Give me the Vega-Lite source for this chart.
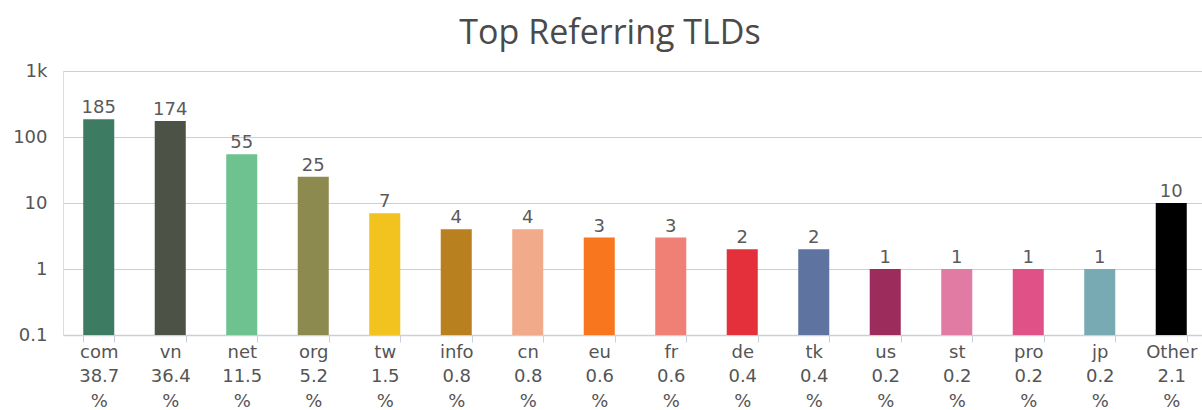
{
  "$schema": "https://vega.github.io/schema/vega-lite/v6.json",
  "autosize": "none",
  "padding": {"left": 63, "top": 71, "right": 0, "bottom": 75},
  "width": 1144,
  "height": 264,
  "background": "white",
  "title": {
    "text": "Top Referring TLDs",
    "fontSize": 34,
    "font": "Open Sans",
    "fontWeight": "normal",
    "color": "#4a4a4a",
    "anchor": "middle",
    "frame": "group",
    "dx": -25,
    "offset": 11
  },
  "data": {
    "values": [
      {"tld": "com", "count": 185, "pct": 38.7},
      {"tld": "vn", "count": 174, "pct": 36.4},
      {"tld": "net", "count": 55, "pct": 11.5},
      {"tld": "org", "count": 25, "pct": 5.2},
      {"tld": "tw", "count": 7, "pct": 1.5},
      {"tld": "info", "count": 4, "pct": 0.8},
      {"tld": "cn", "count": 4, "pct": 0.8},
      {"tld": "eu", "count": 3, "pct": 0.6},
      {"tld": "fr", "count": 3, "pct": 0.6},
      {"tld": "de", "count": 2, "pct": 0.4},
      {"tld": "tk", "count": 2, "pct": 0.4},
      {"tld": "us", "count": 1, "pct": 0.2},
      {"tld": "st", "count": 1, "pct": 0.2},
      {"tld": "pro", "count": 1, "pct": 0.2},
      {"tld": "jp", "count": 1, "pct": 0.2},
      {"tld": "Other", "count": 10, "pct": 2.1}
    ]
  },
  "transform": [
    {"calculate": "datum.tld + '|' + format(datum.pct, '.1f')", "as": "key"}
  ],
  "encoding": {
    "x": {
      "field": "key",
      "type": "nominal",
      "sort": null,
      "scale": {"paddingInner": 0.566, "paddingOuter": 0.283},
      "axis": {
        "title": null,
        "labelAngle": 0,
        "labelExpr": "isValid(datum.value) ? [split(datum.value, '|')[0], split(datum.value, '|')[1], '%'] : ''",
        "labelFont": "DejaVu Sans",
        "labelFontSize": 18,
        "labelColor": "#555555",
        "labelLineHeight": 24.5,
        "labelPadding": 1,
        "labelOverlap": false,
        "tickBand": "extent",
        "tickColor": "#c8d0e0",
        "tickSize": 7,
        "domainColor": "#c8d0e0",
        "domainWidth": 1.5,
        "grid": false
      }
    }
  },
  "layer": [
    {
      "mark": {"type": "bar"},
      "encoding": {
        "y": {
          "field": "count",
          "type": "quantitative",
          "scale": {"type": "log", "domain": [0.1, 1000], "nice": false},
          "axis": {
            "title": null,
            "values": [0.1, 1, 10, 100, 1000],
            "labelExpr": "datum.value >= 1000 ? '1k' : datum.label",
            "format": "~g",
            "labelFont": "DejaVu Sans",
            "labelFontSize": 18,
            "labelColor": "#555555",
            "labelPadding": 16,
            "ticks": false,
            "domain": false,
            "gridColor": "#cfcfcf",
            "gridWidth": 1.2
          }
        },
        "y2": {"datum": 0.1},
        "color": {
          "field": "tld",
          "type": "nominal",
          "legend": null,
          "scale": {
            "domain": ["com", "vn", "net", "org", "tw", "info", "cn", "eu", "fr", "de", "tk", "us", "st", "pro", "jp", "Other"],
            "range": ["#3d7b63", "#4c5245", "#6dc290", "#8d8a50", "#f2c21e", "#b98020", "#f1aa8a", "#f7761e", "#f07f75", "#e3303a", "#5f73a1", "#9c2c5b", "#e27ba3", "#e05287", "#77aab3", "#000000"]
          }
        }
      }
    },
    {
      "mark": {"type": "text", "baseline": "alphabetic", "dy": -6, "font": "DejaVu Sans", "fontSize": 18, "color": "#5a5a5a"},
      "encoding": {
        "y": {"field": "count", "type": "quantitative"},
        "text": {"field": "count", "type": "quantitative"}
      }
    }
  ]
}
